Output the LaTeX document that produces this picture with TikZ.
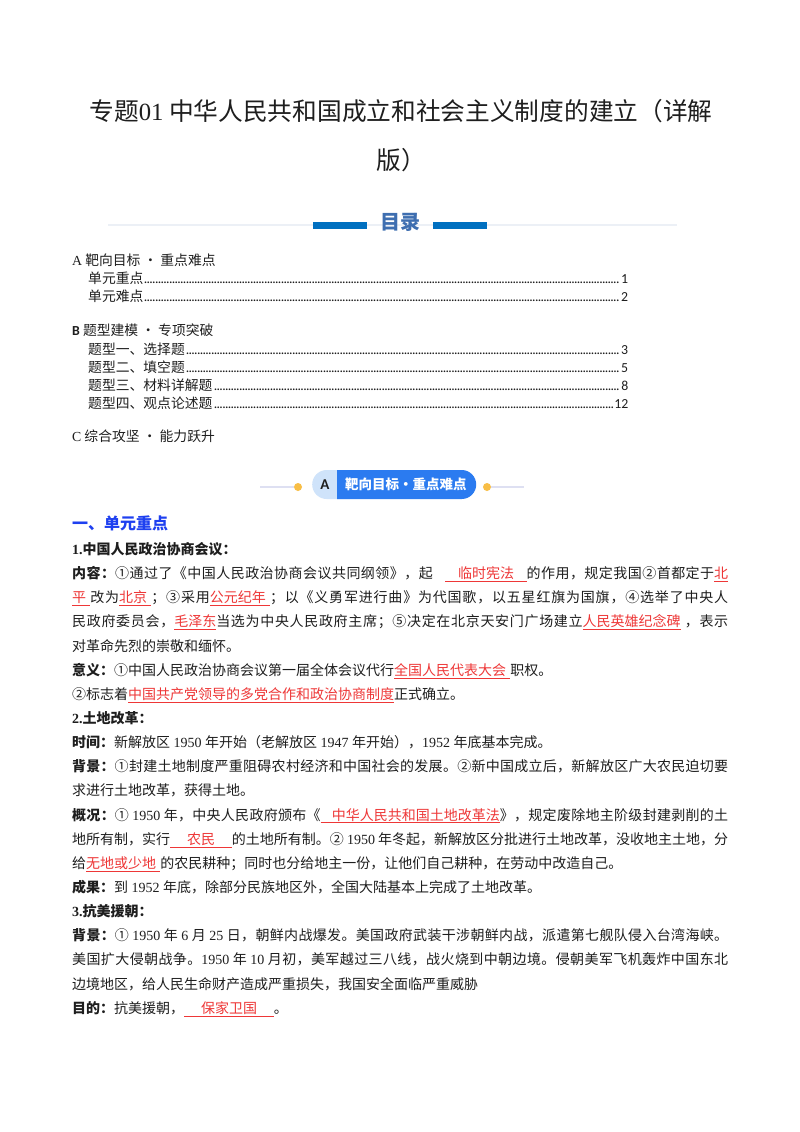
\documentclass[tikz,border=0pt]{standalone}
\usepackage{fontspec}
\setmainfont{Noto Sans CJK SC}
\newfontfamily\latf{Liberation Serif}
\newfontfamily\calf{Carlito}
% CJK glyphs get stretchable glue between them (for justified lines)
\newXeTeXintercharclass\cjkclass
\newcount\cjkcnt
\newcommand{\setcjk}[2]{\cjkcnt=#1\relax\loop\XeTeXcharclass\cjkcnt=\cjkclass\advance\cjkcnt by 1\relax\ifnum\cjkcnt<#2\repeat}
\setcjk{"2460}{"2474}
\setcjk{"3000}{"3040}
\setcjk{"4E00}{"A000}
\setcjk{"FF00}{"FFF0}
\XeTeXinterchartokenstate=1
\XeTeXinterchartoks\cjkclass\cjkclass={\hskip 0pt plus 1fil\relax}
\usetikzlibrary{shapes.misc}
\definecolor{ink}{RGB}{30,30,30}
\definecolor{mulu}{RGB}{62,110,176}
\definecolor{bar}{RGB}{0,112,192}
\definecolor{hair}{RGB}{236,240,246}
\definecolor{secblue}{RGB}{30,64,240}
\definecolor{ansred}{RGB}{238,55,55}
\definecolor{pilllt}{RGB}{207,227,250}
\definecolor{pillbl}{RGB}{43,123,240}
\definecolor{knob}{RGB}{248,190,70}
\definecolor{lav}{RGB}{222,224,242}
\tikzstyle{body} = [anchor=base west, inner sep=0pt, font=\fontsize{14}{17}\selectfont, text=ink]
\tikzstyle{toc} = [anchor=base west, inner sep=0pt, font=\fontsize{13.8}{16}\selectfont, text=ink]
\tikzstyle{pill} = [rounded rectangle, minimum height=29pt, inner sep=0pt]
\tikzstyle{knob} = [circle, fill=knob, minimum size=8pt, inner sep=0pt]
\tikzstyle{rule} = [line width=1.2pt, draw=lav]
\newcommand{\fl}[1]{\makebox[656pt][s]{#1}}
\newcommand{\ans}[1]{\textcolor{ansred}{\underline{#1}}}
\newcommand{\nm}[1]{{\latf #1}}
\newcommand{\hd}[1]{\textbf{#1}}
\newcommand{\tocdots}{\leaders\hbox to 2.8pt{\hss\calf.\hss}\hfill}
\newcommand{\tocline}[2]{\makebox[541pt][l]{#1\tocdots{\calf #2}}}
\newcommand{\linegap}{24.15pt}
\begin{document}
\begin{tikzpicture}[x=1pt, y=-1pt]
    \fill[white] (0,0) rectangle (800,1132);
    \useasboundingbox (0,0) rectangle (800,1132);

    % title
    \node[anchor=base, inner sep=0pt, font=\fontsize{24.7}{28}\selectfont, text=ink] (title1) at (401,120.5) {专题\nm{01}\ 中华人民共和国成立和社会主义制度的建立（详解};
    \node[anchor=base, inner sep=0pt, font=\fontsize{24.7}{28}\selectfont, text=ink] (title2) at (401,169.5) {版）};

    % contents header
    \draw[line width=2pt, draw=hair] (108,225) -- (677,225);
    \fill[bar] (313,221.5) rectangle (367,228.5);
    \fill[bar] (433,221.5) rectangle (487,228.5);
    \node[anchor=base, inner sep=0pt, font=\bfseries\fontsize{20}{24}\selectfont, text=mulu] (mulu) at (400,229.6) {目录};

    % contents
    \node[toc] (tocA) at (72,265.1) {{\latf A} 靶向目标 · 重点难点};
    \node[toc] (toc1) at (88,283.1) {\tocline{单元重点}{1}};
    \node[toc] (toc2) at (88,301.1) {\tocline{单元难点}{2}};
    \node[toc] (tocB) at (72,335.1) {{\calf\bfseries B} 题型建模 · 专项突破};
    \node[toc] (toc3) at (88,354.1) {\tocline{题型一、选择题}{3}};
    \node[toc] (toc4) at (88,372.1) {\tocline{题型二、填空题}{5}};
    \node[toc] (toc5) at (88,390.1) {\tocline{题型三、材料详解题}{8}};
    \node[toc] (toc6) at (88,408.1) {\tocline{题型四、观点论述题}{12}};
    \node[toc] (tocC) at (72,441.1) {{\latf C} 综合攻坚 · 能力跃升};

    % banner
    \node[knob] (knobL) at (298,487) {};
    \node[knob] (knobR) at (487,487) {};
    \coordinate (ruleL) at (260,487);
    \coordinate (ruleR) at (524,487);
    \draw[rule] (ruleL) -- (knobL);
    \draw[rule] (knobR) -- (ruleR);
    \node[pill, fill=pilllt, minimum width=52pt, anchor=west] (pillL) at (312,484.5) {};
    \node[pill, fill=pillbl, rounded rectangle left arc=none, minimum width=139pt, anchor=west, text=white, font=\bfseries\fontsize{13.5}{16}\selectfont] (pillR) at (337,484.5) {靶向目标·重点难点};
    \node[inner sep=0pt, font=\calf\bfseries\fontsize{15}{16}\selectfont, text=ink] (pillA) at (325,484.5) {A};

    % section one
    \node[anchor=base west, inner sep=0pt, font=\bfseries\fontsize{16}{19}\selectfont, text=secblue] (sec1) at (72,529.1) {一、单元重点};
    \node[body] (h1) at (72,554.4) {\hd{\nm{1.}中国人民政治协商会议：}};
    \node[body] (l1) at ([yshift=-\linegap]h1.base west) {\fl{\hd{内容：}①通过了《中国人民政治协商会议共同纲领》，起\hspace{0.9em}\ans{\hspace{0.9em}临时宪法\hspace{0.9em}}的作用，规定我国②首都定于\ans{北}}};
    \node[body] (l2) at ([yshift=-\linegap]l1.base west) {\fl{\ans{平\hspace{0.3em}}改为\ans{北京\hspace{0.3em}}；③采用\ans{公元纪年\hspace{0.3em}}；以《义勇军进行曲》为代国歌，以五星红旗为国旗，④选举了中央人}};
    \node[body] (l3) at ([yshift=-\linegap]l2.base west) {\fl{民政府委员会，\ans{毛泽东}当选为中央人民政府主席；⑤决定在北京天安门广场建立\ans{人民英雄纪念碑}\hspace{0.3em}，表示}};
    \node[body] (l4) at ([yshift=-\linegap]l3.base west) {对革命先烈的崇敬和缅怀。};
    \node[body] (l5) at ([yshift=-\linegap]l4.base west) {\hd{意义：}①中国人民政治协商会议第一届全体会议代行\ans{全国人民代表大会\hspace{0.3em}}职权。};
    \node[body] (l6) at ([yshift=-\linegap]l5.base west) {②标志着\ans{中国共产党领导的多党合作和政治协商制度}正式确立。};
    \node[body] (h2) at ([yshift=-\linegap]l6.base west) {\hd{\nm{2.}土地改革：}};
    \node[body] (l7) at ([yshift=-\linegap]h2.base west) {\hd{时间：}新解放区\nm{\ 1950\ }年开始（老解放区\nm{\ 1947\ }年开始），\nm{1952\ }年底基本完成。};
    \node[body] (l8) at ([yshift=-\linegap]l7.base west) {\fl{\hd{背景：}①封建土地制度严重阻碍农村经济和中国社会的发展。②新中国成立后，新解放区广大农民迫切要}};
    \node[body] (l9) at ([yshift=-\linegap]l8.base west) {求进行土地改革，获得土地。};
    \node[body] (l10) at ([yshift=-\linegap]l9.base west) {\fl{\hd{概况：}①\nm{\ 1950\ }年，中央人民政府颁布《\ans{\hspace{0.8em}中华人民共和国土地改革法}》，规定废除地主阶级封建剥削的土}};
    \node[body] (l11) at ([yshift=-\linegap]l10.base west) {\fl{地所有制，实行\ans{\hspace{1.2em}农民\hspace{1.2em}}的土地所有制。②\nm{\ 1950\ }年冬起，新解放区分批进行土地改革，没收地主土地，分}};
    \node[body] (l12) at ([yshift=-\linegap]l11.base west) {给\ans{无地或少地\hspace{0.3em}}的农民耕种；同时也分给地主一份，让他们自己耕种，在劳动中改造自己。};
    \node[body] (l13) at ([yshift=-\linegap]l12.base west) {\hd{成果：}到\nm{\ 1952\ }年底，除部分民族地区外，全国大陆基本上完成了土地改革。};
    \node[body] (h3) at ([yshift=-\linegap]l13.base west) {\hd{\nm{3.}抗美援朝：}};
    \node[body] (l14) at ([yshift=-\linegap]h3.base west) {\fl{\hd{背景：}①\nm{\ 1950\ }年\nm{\ 6\ }月\nm{\ 25\ }日，朝鲜内战爆发。美国政府武装干涉朝鲜内战，派遣第七舰队侵入台湾海峡。}};
    \node[body] (l15) at ([yshift=-\linegap]l14.base west) {\fl{美国扩大侵朝战争。\nm{1950\ }年\nm{\ 10\ }月初，美军越过三八线，战火烧到中朝边境。侵朝美军飞机轰炸中国东北}};
    \node[body] (l16) at ([yshift=-\linegap]l15.base west) {边境地区，给人民生命财产造成严重损失，我国安全面临严重威胁};
    \node[body] (l17) at ([yshift=-\linegap]l16.base west) {\hd{目的：}抗美援朝，\ans{\hspace{1.2em}保家卫国\hspace{1.2em}}。};
\end{tikzpicture}
\end{document}
